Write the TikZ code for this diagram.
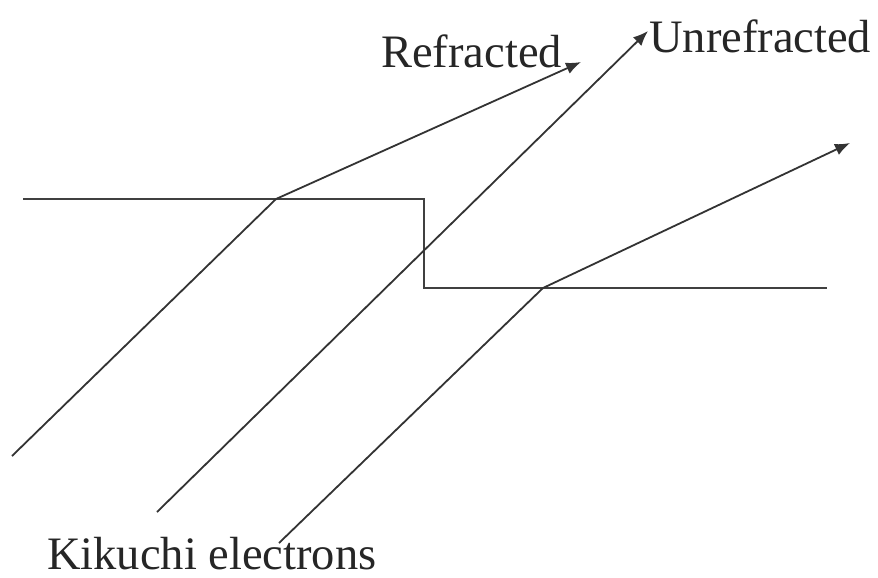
\documentclass[tikz,border=0pt]{standalone}
\usepackage{fontspec}
\setmainfont{Liberation Serif}
\usetikzlibrary{arrows.meta}
\begin{document}
\begin{tikzpicture}[x=1pt,y=-1pt,
  ray/.style={draw=black!80, line width=1.8pt},
  arrowray/.style={ray, -{Latex[length=15pt,width=12pt]}},
  surface/.style={draw=black!75, line width=1.8pt},
  label/.style={inner sep=0pt, anchor=base west, text=black!85,
    font=\fontsize{46.5pt}{50pt}\selectfont}]
\useasboundingbox (0,0) rectangle (878,578);
\fill[white] (0,0) rectangle (878,578);

% stepped crystal surface
\coordinate (sL) at (23,199);
\coordinate (sStepTop) at (424,199);
\coordinate (sStepBot) at (424,288);
\coordinate (sR) at (827,288);
\draw[surface] (sL) -- (sStepTop) -- (sStepBot) -- (sR);

% entry points on the surface
\coordinate (p1) at (276,199);
\coordinate (p3) at (543,288);

% incoming Kikuchi electrons
\coordinate (a1) at (12,456);
\coordinate (a2) at (157,512);
\coordinate (a3) at (279,543);

% exit ends
\coordinate (e1) at (581,62);
\coordinate (e2) at (648,31);
\coordinate (e3) at (850,143);

\draw[ray] (a1) -- (p1);
\draw[arrowray] (p1) -- (e1);
\draw[arrowray] (a2) -- (e2);
\draw[ray] (a3) -- (p3);
\draw[arrowray] (p3) -- (e3);

% labels
\node[label] (lRefr) at (381,67) {Refracted};
\node[label] (lUnrefr) at (649,53) {Unrefracted};
\node[label] (lKik) at (47,569) {Kikuchi electrons};
\end{tikzpicture}
\end{document}
